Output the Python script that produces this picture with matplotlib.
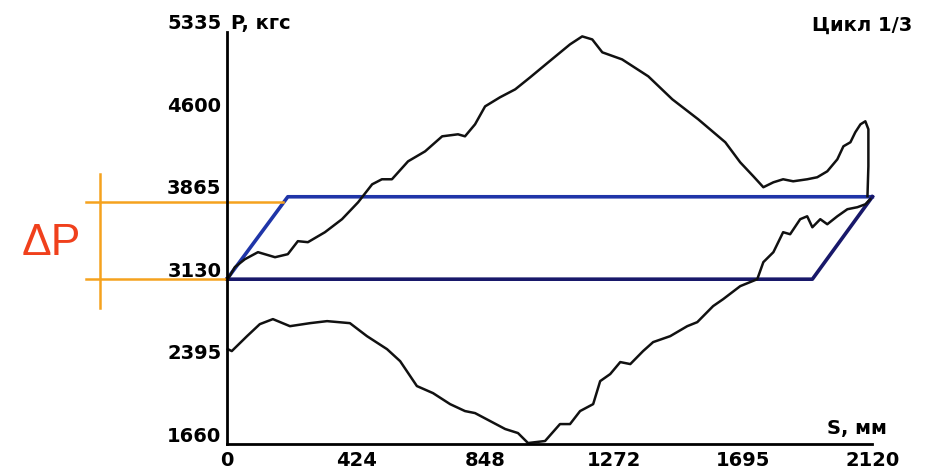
import matplotlib.pyplot as plt
from matplotlib.transforms import ScaledTranslation

plt.rcParams['font.family'] = ['DejaVu Sans']

# ход нагружения (верхняя кривая)
s_up = [3, 26, 59, 102, 158, 200, 233, 266, 322, 378, 431, 477, 509, 542, 595, 651,
        707, 759, 782, 815, 848, 897, 947, 996, 1055, 1127, 1167, 1200, 1233, 1298,
        1384, 1463, 1548, 1637, 1686, 1729, 1762, 1795, 1827, 1860, 1906, 1939, 1972,
        2005, 2025, 2048, 2064, 2081, 2097, 2107, 2107, 2104]
p_up = [3130, 3237, 3308, 3371, 3326, 3353, 3469, 3460, 3549, 3665, 3816, 3976, 4021,
        4021, 4181, 4270, 4404, 4422, 4404, 4511, 4671, 4752, 4823, 4930, 5063, 5224,
        5295, 5268, 5153, 5090, 4939, 4734, 4556, 4351, 4172, 4048, 3950, 3994, 4021,
        4003, 4021, 4039, 4092, 4199, 4315, 4351, 4440, 4511, 4538, 4467, 4137, 3870]

# нижняя кривая
s_low = [3, 16, 66, 108, 151, 207, 273, 329, 404, 460, 526, 569, 624, 677, 733, 782,
         815, 914, 956, 989, 1045, 1094, 1127, 1160, 1203, 1226, 1259, 1292, 1325,
         1367, 1400, 1456, 1512, 1545, 1597, 1630, 1686, 1742, 1762, 1795, 1827, 1850,
         1883, 1906, 1923, 1949, 1972, 2005, 2038, 2071, 2097, 2113]
p_low = [2506, 2489, 2622, 2729, 2774, 2711, 2738, 2756, 2738, 2622, 2506, 2399, 2177,
         2114, 2016, 1954, 1936, 1794, 1758, 1669, 1687, 1838, 1838, 1954, 2016, 2221,
         2284, 2391, 2373, 2489, 2569, 2622, 2711, 2747, 2890, 2952, 3068, 3130, 3282,
         3371, 3549, 3531, 3665, 3691, 3593, 3665, 3620, 3691, 3754, 3772, 3798, 3843]

# параллелограмм
s_box = [0, 200, 2120, 1923, 0]
p_box = [3130, 3865, 3865, 3130, 3130]

x_ticks = [0, 424, 848, 1272, 1695, 2120]
y_ticks = [1660, 2395, 3130, 3865, 4600, 5335]
dp_levels = [3820, 3135]

fig = plt.figure(figsize=(9.3, 4.77), dpi=100)
ax = fig.add_axes([0.244, 0.067, 0.694, 0.864])

ax.plot(s_box[:3], p_box[:3], color='#1f35a8', lw=2.6, clip_on=False)
ax.plot(s_box[2:], p_box[2:], color='#18186a', lw=2.6, clip_on=False)
ax.plot(s_up, p_up, color='#111111', lw=1.8, clip_on=False)
ax.plot(s_low, p_low, color='#111111', lw=1.8, clip_on=False)

# ΔP
ax.plot([-463, 185], [dp_levels[0]] * 2, color='#f5a21e', lw=1.8, clip_on=False)
ax.plot([-463, 0], [dp_levels[1]] * 2, color='#f5a21e', lw=1.8, clip_on=False)
ax.plot([-417, -417], [4066, 2872], color='#f5a21e', lw=1.8, clip_on=False)
ax.text(-578, 3460, 'ΔP', color='#f0401c', fontsize=32, family='Liberation Sans',
        ha='center', va='center')

ax.set_xlim(0, 2120)
ax.set_ylim(1660, 5335)
ax.set_xticks(x_ticks)
ax.set_yticks(y_ticks)
ax.tick_params(length=0, labelsize=14, pad=4)
for lab in ax.get_xticklabels() + ax.get_yticklabels():
    lab.set_fontweight('bold')
off = ScaledTranslation(0, 0.11, fig.dpi_scale_trans)
for lab in ax.get_yticklabels():
    lab.set_transform(lab.get_transform() + off)

for side in ['top', 'right']:
    ax.spines[side].set_visible(False)
for side in ['left', 'bottom']:
    ax.spines[side].set_linewidth(2.0)

ax.text(0.006, 1.024, 'P, кгс', transform=ax.transAxes, fontsize=14,
        fontweight='bold', ha='left', va='center')
ax.text(1.022, 0.04, 'S, мм', transform=ax.transAxes, fontsize=14,
        fontweight='bold', ha='right', va='center')
fig.text(0.981, 0.948, 'Цикл 1/3', fontsize=14, fontweight='bold', ha='right', va='center')

fig.savefig('out.png', dpi=100)
